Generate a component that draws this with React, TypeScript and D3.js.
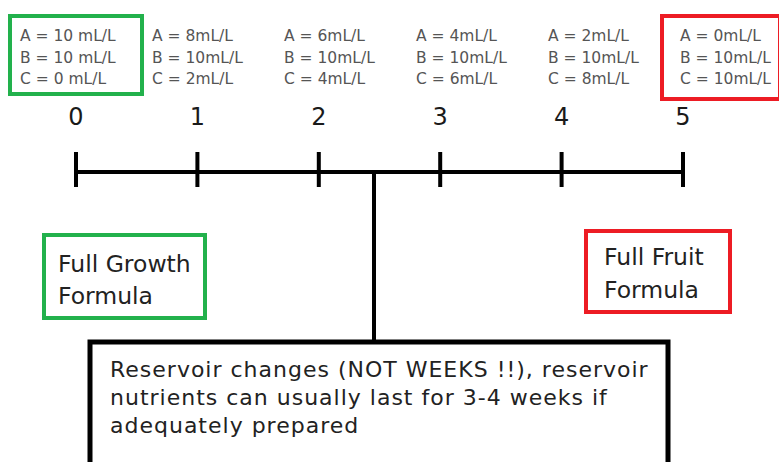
import React, { useEffect, useRef } from 'react';
import * as d3 from 'd3';

// reservoir change number
const changes = [0, 1, 2, 3, 4, 5];
// nutrient dose per change (mL/L)
const nutrientA = [10, 8, 6, 4, 2, 0];
const nutrientB = [10, 10, 10, 10, 10, 10];
const nutrientC = [0, 2, 4, 6, 8, 10];

const growthLabel = ['Full Growth', 'Formula'];
const fruitLabel = ['Full Fruit', 'Formula'];
const noteLines = [
  'Reservoir changes (NOT WEEKS !!), reservoir',
  'nutrients can usually last for 3-4 weeks if',
  'adequately prepared',
];

const GREEN = '#22b14c';
const RED = '#ed1c24';
const FONT = '"DejaVu Sans", Verdana, sans-serif';

function App() {
  const svgRef = useRef<SVGSVGElement | null>(null);

  useEffect(() => {
    const width = 779;
    const height = 462;
    const svg = d3.select(svgRef.current).attr('width', width).attr('height', height);
    svg.selectAll('*').remove();

    // 1. scales
    const x = d3.scaleLinear().domain([0, 5]).range([76, 683]);
    const colX = d3.scaleLinear().domain([0, 5]).range([20, 680]);
    const lineY = 172;

    // 2. dose labels
    const fmt = (v: number, i: number) => `${v}${i === 0 ? ' ' : ''}mL/L`;
    const cols = svg
      .append('g')
      .selectAll('text')
      .data(changes)
      .join('text')
      .attr('font-family', FONT)
      .attr('font-size', 15.5)
      .attr('fill', '#555');
    cols.each(function (d, i) {
      const t = d3.select(this);
      const rows = [
        `A = ${fmt(nutrientA[i], i)}`,
        `B = ${fmt(nutrientB[i], i)}`,
        `C = ${fmt(nutrientC[i], i)}`,
      ];
      rows.forEach((r, j) => {
        t.append('tspan').attr('x', colX(d)).attr('y', 41 + j * 21.5).text(r);
      });
    });

    // boxes around first and last column
    svg.append('rect').attr('x', 10).attr('y', 16).attr('width', 132).attr('height', 78)
      .attr('fill', 'none').attr('stroke', GREEN).attr('stroke-width', 4);
    svg.append('rect').attr('x', colX(5) - 18).attr('y', 16).attr('width', 118).attr('height', 83)
      .attr('fill', 'none').attr('stroke', RED).attr('stroke-width', 4);

    // 3. change numbers
    svg.append('g')
      .selectAll('text')
      .data(changes)
      .join('text')
      .attr('x', (d) => x(d))
      .attr('y', 125)
      .attr('text-anchor', 'middle')
      .attr('font-family', FONT)
      .attr('font-size', 24)
      .attr('fill', '#1a1a1a')
      .text((d) => d);

    // 4. timeline
    svg.append('line')
      .attr('x1', x(0)).attr('x2', x(5))
      .attr('y1', lineY).attr('y2', lineY)
      .attr('stroke', '#000').attr('stroke-width', 4);
    svg.append('g')
      .selectAll('line')
      .data(changes)
      .join('line')
      .attr('x1', (d) => x(d)).attr('x2', (d) => x(d))
      .attr('y1', 152).attr('y2', 187)
      .attr('stroke', '#000').attr('stroke-width', 4);

    // connector down to note
    svg.append('line')
      .attr('x1', 374).attr('x2', 374)
      .attr('y1', lineY).attr('y2', 341)
      .attr('stroke', '#000').attr('stroke-width', 4);

    // 5. formula boxes
    const drawBox = (bx: number, by: number, bw: number, bh: number, color: string, lines: string[], tx: number, ty: number, gap: number) => {
      svg.append('rect').attr('x', bx).attr('y', by).attr('width', bw).attr('height', bh)
        .attr('fill', 'none').attr('stroke', color).attr('stroke-width', 4);
      const t = svg.append('text').attr('font-family', FONT).attr('font-size', 23.5).attr('fill', '#222');
      lines.forEach((l, i) => t.append('tspan').attr('x', tx).attr('y', ty + i * gap).text(l));
    };
    drawBox(44, 235, 161, 83, GREEN, growthLabel, 58, 272, 32);
    drawBox(586, 231, 144, 81, RED, fruitLabel, 604, 265, 33);

    // 6. note box
    svg.append('rect').attr('x', 90).attr('y', 342).attr('width', 578).attr('height', 140)
      .attr('fill', '#fff').attr('stroke', '#000').attr('stroke-width', 5);
    const note = svg.append('text').attr('font-family', FONT).attr('font-size', 22)
      .attr('letter-spacing', 1).attr('fill', '#222');
    noteLines.forEach((l, i) => note.append('tspan').attr('x', 110).attr('y', 377 + i * 28).text(l));
  }, []);

  return <svg ref={svgRef} style={{ position: 'absolute', left: 0, top: 0, display: 'block' }} />;
}

export default App;
